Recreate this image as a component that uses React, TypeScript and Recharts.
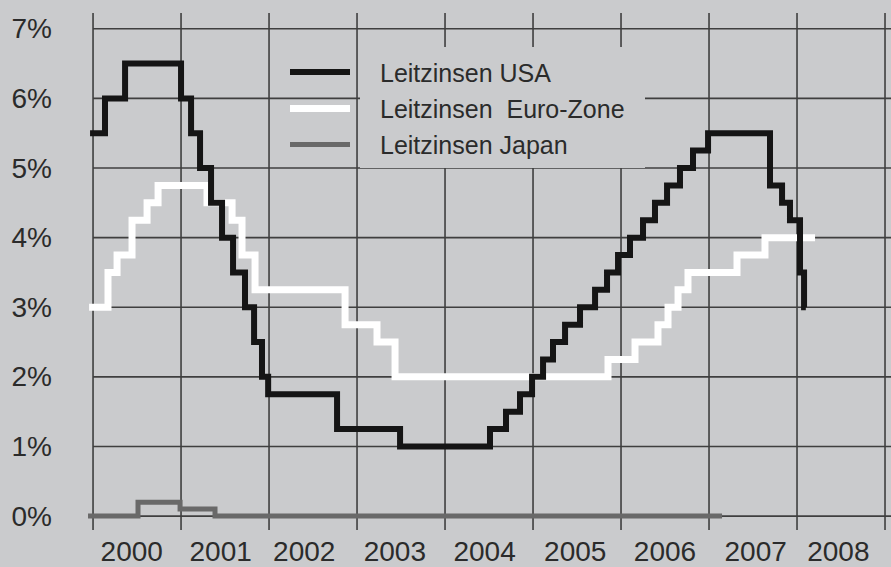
import { LineChart, Line, XAxis, YAxis, CartesianGrid } from 'recharts'

const BG = '#cacbcd'
const GRID = '#3f3f3f'
const TEXT = '#2b2b2b'
const FONT = '"Liberation Sans", Arial, Helvetica, sans-serif'

// each step: start date (decimal year) and rate in %
const usaDates = [
  1999.966, 2000.136, 2000.364, 2001.0, 2001.114, 2001.216, 2001.341, 2001.466,
  2001.591, 2001.727, 2001.83, 2001.92, 2001.99, 2002.773, 2003.489, 2004.511,
  2004.693, 2004.852, 2004.989, 2005.114, 2005.227, 2005.364, 2005.534, 2005.705,
  2005.841, 2005.966, 2006.102, 2006.25, 2006.386, 2006.523, 2006.67, 2006.818,
  2006.989, 2007.693, 2007.83, 2007.92, 2008.034, 2008.08, 2008.1,
]
const usaRates = [
  5.5, 6.0, 6.5, 6.0, 5.5, 5.0, 4.5, 4.0,
  3.5, 3.0, 2.5, 2.0, 1.75, 1.25, 1.0, 1.25,
  1.5, 1.75, 2.0, 2.25, 2.5, 2.75, 3.0, 3.25,
  3.5, 3.75, 4.0, 4.25, 4.5, 4.75, 5.0, 5.25,
  5.5, 4.75, 4.5, 4.25, 3.5, 3.0, 3.0,
]

const euroDates = [
  1999.955, 2000.17, 2000.273, 2000.443, 2000.614, 2000.739, 2001.295, 2001.58,
  2001.693, 2001.841, 2002.864, 2003.227, 2003.432, 2005.852, 2006.159, 2006.42,
  2006.534, 2006.648, 2006.761, 2007.318, 2007.636, 2008.205,
]
const euroRates = [
  3.0, 3.5, 3.75, 4.25, 4.5, 4.75, 4.5, 4.25,
  3.75, 3.25, 2.75, 2.5, 2.0, 2.25, 2.5, 2.75,
  3.0, 3.25, 3.5, 3.75, 4.0, 4.0,
]

const japanDates = [1999.943, 2000.511, 2000.989, 2001.386, 2007.148]
const japanRates = [0, 0.2, 0.1, 0, 0]

const yearLines = [2000, 2001, 2002, 2003, 2004, 2005, 2006, 2007, 2008, 2009]
const yearLabels = [2000, 2001, 2002, 2003, 2004, 2005, 2006, 2007, 2008]
const yearLabelPos = [2000.44, 2001.45, 2002.4, 2003.43, 2004.45, 2005.48, 2006.5, 2007.53, 2008.47]
const percentTicks = [0, 1, 2, 3, 4, 5, 6, 7]

const toPoints = (dates: number[], rates: number[]) =>
  dates.map((t, i) => ({ t, v: rates[i] }))

const series = [
  { key: 'usa', name: 'Leitzinsen USA', data: toPoints(usaDates, usaRates), color: '#151515', width: 6 },
  { key: 'euro', name: 'Leitzinsen  Euro-Zone', data: toPoints(euroDates, euroRates), color: '#ffffff', width: 7 },
  { key: 'japan', name: 'Leitzinsen Japan', data: toPoints(japanDates, japanRates), color: '#696969', width: 5 },
]

const YTick = (props: any) => {
  const { x, y, payload } = props
  return (
    <text x={x} y={y} textAnchor="end" dominantBaseline="central" fill={TEXT} fontSize={28} fontFamily={FONT}>
      {payload.value}%
    </text>
  )
}

const XTick = (props: any) => {
  const { x, y, index } = props
  return (
    <text x={x} y={y} dy="0.71em" textAnchor="middle" fill={TEXT} fontSize={28} fontFamily={FONT}>
      {yearLabels[index]}
    </text>
  )
}

// horizontal lines start at the 2000 line, not at the plot edge
const HLine = (p: any) => (
  <line key={`h-${p.index}`} x1={p.x1 + 7} y1={p.y1} x2={p.x2} y2={p.y2} stroke={GRID} strokeWidth={1.6} />
)

function LegendBox() {
  const rows = [series[0], series[1], series[2]]
  return (
    <div style={{ position: 'absolute', left: 290, top: 47, width: 355, height: 121 }}>
      <div style={{ position: 'absolute', left: 70, top: 0, width: 285, height: 121, background: BG }} />
      {rows.map((s, i) => (
        <div key={s.key}>
          <div
            style={{
              position: 'absolute',
              left: 0,
              top: 25 + i * 36 - s.width / 2,
              width: 60,
              height: s.width,
              background: s.color,
            }}
          />
          <div
            style={{
              position: 'absolute',
              left: 90,
              top: 26 + i * 36 - 15,
              height: 30,
              lineHeight: '30px',
              fontSize: 25,
              fontFamily: FONT,
              color: TEXT,
              whiteSpace: 'pre',
            }}
          >
            {s.name}
          </div>
        </div>
      ))}
    </div>
  )
}

export default function App() {
  const drawOrder = [series[2], series[1], series[0]]
  return (
    <div style={{ position: 'absolute', left: 0, top: 0, width: 891, height: 567, background: BG, overflow: 'hidden' }}>
      <LineChart width={891} height={567} margin={{ top: 13, right: 0, bottom: 0, left: 0 }}>
        <CartesianGrid
          stroke={GRID}
          strokeWidth={1.6}
          horizontal={HLine}
          horizontalValues={percentTicks}
          verticalValues={yearLines}
        />
        <XAxis
          type="number"
          dataKey="t"
          domain={[1999.92, 2009.068]}
          ticks={yearLabelPos}
          interval={0}
          height={37}
          axisLine={false}
          tickLine={false}
          tickMargin={5}
          tick={<XTick />}
          allowDataOverflow
        />
        <YAxis
          type="number"
          dataKey="v"
          domain={[-0.2, 7.227]}
          ticks={percentTicks}
          interval={0}
          width={86}
          axisLine={false}
          tickLine={false}
          tickMargin={28}
          tick={<YTick />}
          allowDataOverflow
        />
        {drawOrder.map((s) => (
          <Line
            key={s.key}
            data={s.data}
            dataKey="v"
            type="stepAfter"
            stroke={s.color}
            strokeWidth={s.width}
            strokeLinejoin="miter"
            strokeLinecap="butt"
            dot={false}
            activeDot={false}
            isAnimationActive={false}
          />
        ))}
      </LineChart>
      <LegendBox />
    </div>
  )
}
